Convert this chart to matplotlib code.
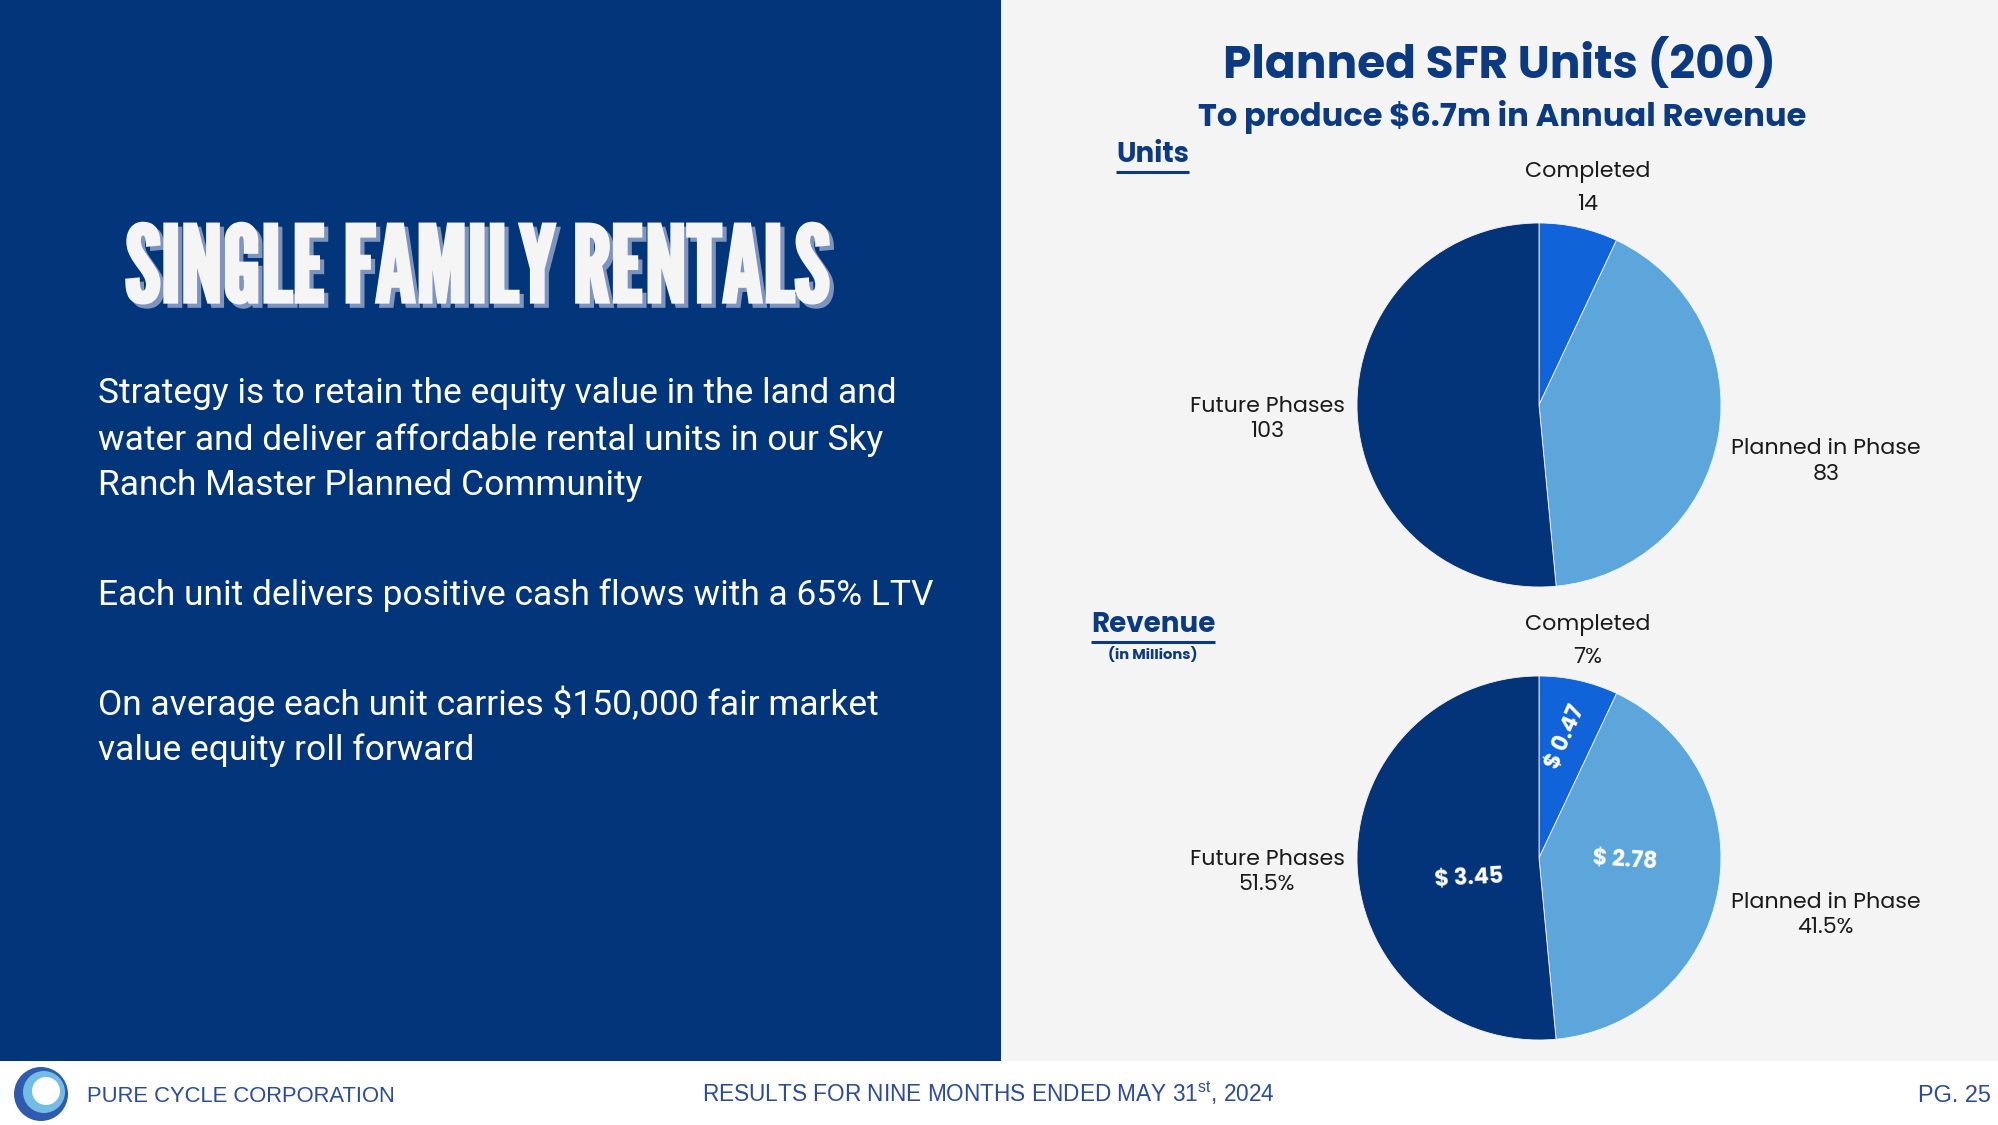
import numpy as np
import matplotlib
matplotlib.use("Agg")
from matplotlib import pyplot as plt
from matplotlib import font_manager
from matplotlib.patches import Rectangle, Circle
import matplotlib.patheffects as pe

# %%
categories = ["Completed", "Planned in Phase", "Future Phases"]
units = [14, 83, 103]
revenue = [0.47, 2.78, 3.45]
revenue_pct = ["7%", "41.5%", "51.5%"]
colors = ["#1163D9", "#5CA6DB", "#03347A"]

bullets = [
    ["Strategy is to retain the equity value in the land and",
     "water and deliver affordable rental units in our Sky",
     "Ranch Master Planned Community"],
    ["Each unit delivers positive cash flows with a 65% LTV"],
    ["On average each unit carries $150,000 fair market",
     "value equity roll forward"],
]

NAVY = "#03357A"
TITLE_BLUE = "#0B3A82"
FOOT_BLUE = "#2B4C98"

installed = {f.name for f in font_manager.fontManager.ttflist}


def pick(*names):
    for n in names:
        if n in installed:
            return n
    return "DejaVu Sans"


HEAD = pick("League Gothic", "Anton", "Bebas Neue")
POP = pick("Poppins", "Inter", "Roboto")
BODY = pick("Roboto", "Inter")
FOOT = pick("Liberation Sans", "Arimo")

fig = plt.figure(figsize=(19.99, 11.25), dpi=100, facecolor="white")
bg = fig.add_axes([0, 0, 1, 1])
bg.set_xlim(0, 1999)
bg.set_ylim(1125, 0)
bg.axis("off")
bg.add_patch(Rectangle((0, 0), 1001, 1061, color=NAVY, lw=0))
bg.add_patch(Rectangle((1001, 0), 998, 1061, color="#F4F4F4", lw=0))

fit = []  # (text objects, target width in px)

# left panel, heavy title with drop shadow
SHADOW = "#7E94C0"
HEAD_WHITE = "#F5F5F5"
t_head = bg.text(125, 302, "SINGLE FAMILY RENTALS", family=HEAD, fontsize=80, color=HEAD_WHITE,
                 va="baseline", ha="left",
                 path_effects=[pe.PathPatchEffect(offset=(3, -3), facecolor=SHADOW,
                                                  edgecolor=SHADOW, linewidth=2.4),
                               pe.PathPatchEffect(facecolor=HEAD_WHITE, edgecolor=HEAD_WHITE,
                                                  linewidth=2.4)])
fit.append(([t_head], 706))

body = []
y0s = [394, 595, 704]
for lines, y0 in zip(bullets, y0s):
    for i, line in enumerate(lines):
        body.append(bg.text(98, y0 + i * 46, line, color="white", fontsize=25.5, family=BODY,
                            va="center", ha="left"))
fit.append(([body[3]] + body[:3] + body[4:], 836))

# right panel titles
t = bg.text(1500, 64, "Planned SFR Units (200)", color=TITLE_BLUE, fontsize=34,
            family=POP, weight="bold", ha="center", va="center")
fit.append(([t], 552))
t = bg.text(1502, 117, "To produce $6.7m in Annual Revenue", color=TITLE_BLUE, fontsize=24,
            family=POP, weight="bold", ha="center", va="center")
fit.append(([t], 608))
t_units = bg.text(1153, 155, "Units", color=TITLE_BLUE, fontsize=21, family=POP,
                  weight="bold", ha="center", va="center")
fit.append(([t_units], 73))
t_rev = bg.text(1153, 625, "Revenue", color=TITLE_BLUE, fontsize=21, family=POP,
                weight="bold", ha="center", va="center")
fit.append(([t_rev], 124))
t = bg.text(1153, 655, "(in Millions)", color=TITLE_BLUE, fontsize=11, family=POP,
            weight="bold", ha="center", va="center")
fit.append(([t], 91))

# footer
bg.add_patch(Circle((41, 1094), 27, color="#2F5BAE", lw=0))
bg.add_patch(Circle((44, 1092), 21, color="#74BCE6", lw=0))
bg.add_patch(Circle((46, 1091), 14, color="white", lw=0))
t = bg.text(87, 1097, "PURE CYCLE CORPORATION", color=FOOT_BLUE, fontsize=16,
            family=FOOT, ha="left", va="center")
fit.append(([t], 309))
plt.rcParams["mathtext.fontset"] = "custom"
plt.rcParams["mathtext.rm"] = FOOT
t = bg.text(988, 1093, r"RESULTS FOR NINE MONTHS ENDED MAY 31$^{\mathrm{st}}$, 2024",
            color=FOOT_BLUE, fontsize=16, family=FOOT, ha="center", va="center")
fit.append(([t], 575))
t = bg.text(1991, 1095, "PG. 25", color=FOOT_BLUE, fontsize=16, family=FOOT,
            ha="right", va="center")
fit.append(([t], 73))

# %%
R = 182
LIM = 1.7
W, H = 1999, 1125


def pie_axes(cx, cy):
    half = R * LIM
    ax = fig.add_axes([(cx - half) / W, 1 - (cy + half) / H, 2 * half / W, 2 * half / H])
    ax.axis("off")
    return ax


def draw_pie(ax, values, texts):
    ax.pie(values, colors=colors, startangle=90, counterclock=False, radius=1,
           wedgeprops=dict(edgecolor="#F4F4F4", linewidth=0.6))
    ax.set_xlim(-LIM, LIM)
    ax.set_ylim(-LIM, LIM)
    frac = np.array(values) / np.sum(values)
    mids = 90 - 360 * (np.cumsum(frac) - frac / 2)
    a = np.deg2rad(mids)
    kw = dict(fontsize=15.5, family=POP, color="#1A1A1A", multialignment="center")
    l0 = ax.text(1.22 * np.cos(a[0]), 1.22 * np.sin(a[0]), texts[0], ha="center", va="center",
                 linespacing=1.65, **kw)
    l1 = ax.text(1.07 * np.cos(a[1]), 1.07 * np.sin(a[1]), texts[1], ha="left", va="top",
                 linespacing=1.2, **kw)
    l2 = ax.text(1.07 * np.cos(a[2]), 1.07 * np.sin(a[2]) - 0.03, texts[2], ha="right",
                 va="center", linespacing=1.2, **kw)
    return mids, [l2, l0, l1]


ax1 = pie_axes(1539, 405)
_, labs1 = draw_pie(ax1, units, [f"{c}\n{v}" for c, v in zip(categories, units)])

ax2 = pie_axes(1539, 858)
mids, labs2 = draw_pie(ax2, revenue, [f"{c}\n{p}" for c, p in zip(categories, revenue_pct)])
fit.append((labs1 + labs2, 154))

inner = []
inner_r = [0.68, 0.47, 0.40]
inner_adj = [0, 8, 14]
rot = [66, -4, 3]
for v, m, r, d, ro in zip(revenue, mids, inner_r, inner_adj, rot):
    ang = np.deg2rad(m + d)
    inner.append(ax2.text(r * np.cos(ang), r * np.sin(ang), f"$ {v:.2f}", color="white",
                          fontsize=16, family=POP, weight="bold", ha="center", va="center",
                          rotation=ro))
fit.append(([inner[2], inner[0], inner[1]], 69))

# scale fonts so widths match the slide
fig.canvas.draw()
r = fig.canvas.get_renderer()
for objs, target in fit:
    w = objs[0].get_window_extent(r).width
    if objs[0].get_rotation() != 0:
        objs[0].set_rotation(0)
        w = objs[0].get_window_extent(r).width
        objs[0].set_rotation(3)
    s = objs[0].get_fontsize() * target / w
    for o in objs:
        o.set_fontsize(s)

# underline headers
fig.canvas.draw()
inv = bg.transData.inverted()
for t in (t_units, t_rev):
    bb = t.get_window_extent()
    (x0, y_a), (x1, y_b) = inv.transform([[bb.x0, bb.y0], [bb.x1, bb.y1]])
    bg.plot([x0, x1], [y_a + 2, y_a + 2], color=TITLE_BLUE, lw=2.2, solid_capstyle="butt")

plt.savefig("out.png", dpi=100, facecolor="white")
